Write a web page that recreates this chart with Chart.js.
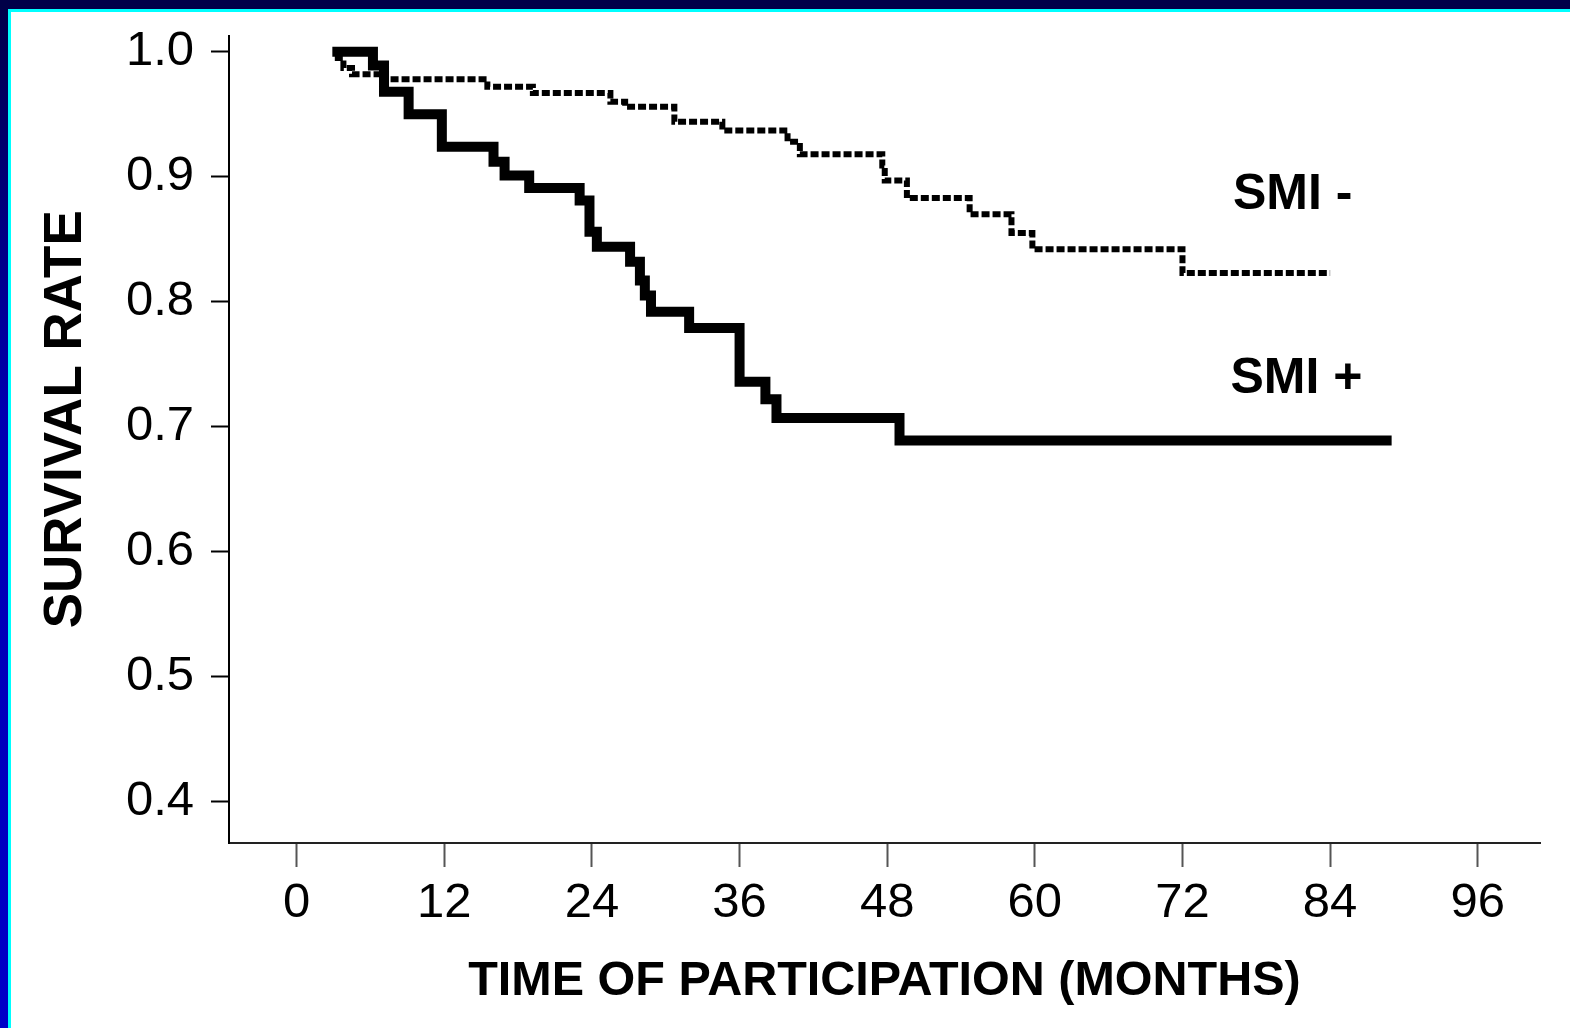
<!DOCTYPE html>
<html>
<head>
<meta charset="utf-8">
<script src="https://cdn.jsdelivr.net/npm/chart.js@4.4.1/dist/chart.umd.min.js"></script>
<style>
    html, body {
        margin: 0;
        padding: 0;
        width: 1570px;
        height: 1028px;
        overflow: hidden;
        background: linear-gradient(to bottom, #000048 0%, #0000b0 40%, #0000c8 100%);
    }
    .top-band {
        position: absolute;
        left: 0;
        top: 0;
        width: 1570px;
        height: 9px;
        background: #000048;
    }
    .panel {
        position: absolute;
        left: 8px;
        top: 9px;
        right: 0;
        bottom: 0;
        background: #ffffff;
        border-top: 3px solid #00ffff;
        border-left: 3px solid #00ffff;
    }
    .chart-box {
        position: absolute;
        left: 0;
        top: 0;
        width: 1570px;
        height: 1028px;
    }
</style>
</head>
<body>
<div class="top-band"></div>
<div class="panel"></div>
<div class="chart-box">
    <canvas id="survivalChart" width="1570" height="1028"></canvas>
</div>

<script>
// Kaplan-Meier steps: month of each drop and survival after it
const smiPlusMonths = [2.9, 6.2, 7.1, 9.1, 11.8, 16.0, 16.9, 18.9, 23.0, 23.8, 24.4, 27.1, 27.9, 28.3, 28.8, 31.9, 36.0, 38.1, 39.0, 49.0, 89.0];
const smiPlusSurvival = [1.0, 0.989, 0.968, 0.950, 0.924, 0.912, 0.901, 0.891, 0.881, 0.856, 0.844, 0.832, 0.817, 0.805, 0.792, 0.779, 0.736, 0.722, 0.707, 0.689, 0.689];

const smiMinusMonths = [3.1, 3.8, 4.5, 7.1, 15.5, 19.2, 25.5, 26.7, 30.7, 34.6, 39.9, 40.9, 47.6, 47.8, 49.6, 54.7, 58.1, 59.8, 72.0, 84.0];
const smiMinusSurvival = [0.995, 0.987, 0.982, 0.978, 0.972, 0.967, 0.960, 0.956, 0.944, 0.937, 0.928, 0.918, 0.909, 0.897, 0.883, 0.870, 0.855, 0.842, 0.823, 0.823];

const seriesNames = ['SMI +', 'SMI -'];
const xTickValues = [0, 12, 24, 36, 48, 60, 72, 84, 96];
const yTickValues = [0.4, 0.5, 0.6, 0.7, 0.8, 0.9, 1.0];
const yTitle = 'SURVIVAL RATE';
const xTitle = 'TIME OF PARTICIPATION (MONTHS)';

const tickFont = { family: "'Liberation Sans', Arial, sans-serif", size: 49 };
const boldFont = { family: "'Liberation Sans', Arial, sans-serif", size: 48.5, weight: 'bold' };

function toPoints(months, values) {
    return months.map((m, i) => ({ x: m, y: values[i] }));
}

// curve names next to the right end of each curve, plus the vertical axis title
const chartText = {
    id: 'chartText',
    afterDatasetsDraw(chart) {
        const { ctx, scales } = chart;
        const spots = [
            { text: seriesNames[0], x: 75.9, y: 0.738 },
            { text: seriesNames[1], x: 76.1, y: 0.885 }
        ];
        ctx.save();
        ctx.fillStyle = '#000';
        ctx.font = 'bold 50px "Liberation Sans", Arial, sans-serif';
        ctx.textAlign = 'left';
        ctx.textBaseline = 'middle';
        spots.forEach(s => {
            ctx.fillText(s.text, scales.x.getPixelForValue(s.x), scales.y.getPixelForValue(s.y));
        });

        ctx.font = 'bold 53px "Liberation Sans", Arial, sans-serif';
        ctx.textAlign = 'center';
        ctx.textBaseline = 'alphabetic';
        ctx.translate(81, scales.y.getPixelForValue(0.706));
        ctx.rotate(-Math.PI / 2);
        ctx.fillText(yTitle, 0, 0);
        ctx.restore();
    }
};

const ctx = document.getElementById('survivalChart').getContext('2d');
const survivalChart = new Chart(ctx, {
    type: 'line',
    data: {
        datasets: [{
            label: seriesNames[0],
            data: toPoints(smiPlusMonths, smiPlusSurvival),
            stepped: true,
            borderColor: '#000',
            borderWidth: 10,
            borderCapStyle: 'butt',
            borderJoinStyle: 'miter',
            pointRadius: 0,
            fill: false
        }, {
            label: seriesNames[1],
            data: toPoints(smiMinusMonths, smiMinusSurvival),
            stepped: true,
            borderColor: '#000',
            borderWidth: 6,
            borderDash: [8, 3],
            borderCapStyle: 'butt',
            borderJoinStyle: 'miter',
            pointRadius: 0,
            fill: false
        }]
    },
    options: {
        responsive: false,
        animation: false,
        events: [],
        layout: {
            padding: { top: 36, right: 30, bottom: 0, left: 0 }
        },
        plugins: {
            legend: { display: false },
            tooltip: { enabled: false },
            title: { display: false }
        },
        scales: {
            x: {
                type: 'linear',
                min: -5.5,
                max: 101.06,
                afterFit: (scale) => {
                    scale.height = 185;
                    scale.paddingLeft = 0;
                    scale.paddingRight = 0;
                },
                afterBuildTicks: (scale) => { scale.ticks = xTickValues.map(v => ({ value: v })); },
                border: { display: true, color: '#222', width: 2 },
                grid: { drawOnChartArea: false, drawTicks: true, tickLength: 24, tickWidth: 2, tickColor: '#555' },
                ticks: {
                    color: '#000',
                    font: tickFont,
                    padding: 7,
                    autoSkip: false,
                    maxRotation: 0,
                    callback: (v) => String(v)
                },
                title: {
                    display: true,
                    text: xTitle,
                    color: '#000',
                    font: boldFont,
                    padding: { top: 0, bottom: 17 }
                }
            },
            y: {
                type: 'linear',
                min: 0.367,
                max: 1.0126,
                afterFit: (scale) => {
                    scale.width = 229;
                    scale.paddingTop = 0;
                    scale.paddingBottom = 0;
                },
                afterBuildTicks: (scale) => { scale.ticks = yTickValues.map(v => ({ value: v })); },
                border: { display: true, color: '#000', width: 2 },
                grid: { drawOnChartArea: false, drawTicks: true, tickLength: 18, tickWidth: 2, tickColor: '#000' },
                ticks: {
                    color: '#000',
                    font: tickFont,
                    padding: 17,
                    callback: (v) => Number(v).toFixed(1)
                }
            }
        }
    },
    plugins: [chartText]
});
</script>
</body>
</html>
